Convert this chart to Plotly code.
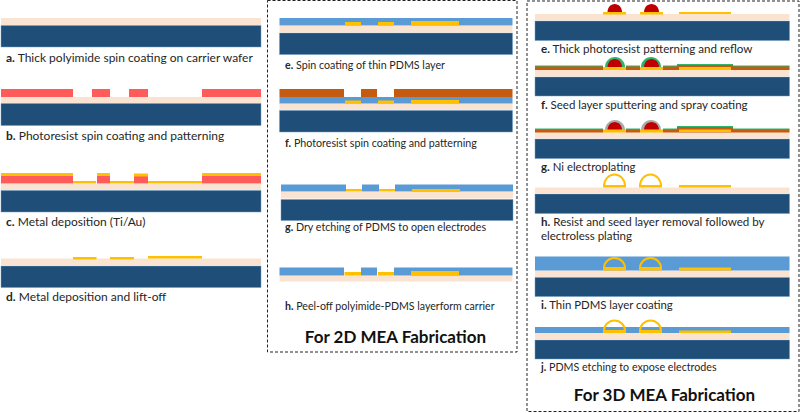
import plotly.graph_objects as go

# Layers, in page pixels: (x0, x1, y0, y1)
WAFER = [(1,261,25.5,47),(1,261,103.5,125.5),(1,261,190.5,212),(1,261,266,287.5),
         (279.5,512.5,33,54.5),(279.5,512.5,110.5,132),(281,513,199.5,220.5),
         (535,789.5,21,40.5),(535,789.5,77,96),(535,789.5,139,158.5),(535,789.5,194,213.5),
         (535,789.5,277.5,296.5),(535,789.5,340,359)]
POLYIMIDE = [(1,261,18,25),(1,261,97,103),(1,261,184,190),(1,261,258.5,265.5),
             (279.5,512.5,26,32.5),(279.5,512.5,103.5,110),(281,513,192,198.5),(279.5,512.5,275.5,281.5),
             (535,789.5,14,20.5),(535,789.5,70,76.5),(535,789.5,132,138.5),(535,789.5,187.5,194),
             (535,789.5,270.5,277),(535,789.5,333,339.5)]
PDMS = [(279.5,512.5,18,25.5),(279.5,512.5,97,103.5),
        (281,346,184.5,191.5),(362,379,184.5,191.5),(395,513,184.5,191.5),
        (279.5,344,267.5,275.5),(361,377,267.5,275.5),(394,512.5,267.5,275.5),
        (535,789.5,256.5,270.5),(535,789.5,327,333)]
RESIST_PINK = [(1,73,89,97),(92,110,89,97),(129,148,89,97),(202,261,89,97),
               (1,73,175.5,183.5),(97,110,175.5,183.5),(134,148,175.5,183.5),(202,261,175.5,183.5)]
RESIST_BROWN = [(279.5,344,89,97),(361,377,89,97),(394,512.5,89,97)]
SEED_BROWN = [(535,603,66.5,70),(626,640,66.5,70),(663,677,66.5,70),(677,733,65,70),(733,789.5,66.5,70),
              (535,603,129.5,132.5),(626,640,129.5,132.5),(663,677,129.5,132.5),(677,733,127,132.5),(733,789.5,129.5,132.5)]
SEED_GREEN = [(535,603,65.5,67),(626,640,65.5,67),(663,677,65.5,67),(677,733,64,65.5),(733,789.5,65.5,67),
              (535,603,128.5,130),(626,640,128.5,130),(663,677,128.5,130),(677,733,126,127.5),(733,789.5,128.5,130)]
GOLD = [(1,73,173,176),(97,110,173,176),(134,148,173.5,176.5),(202,261,173,176),
        (73,96,181,183.5),(110,134,181,183.5),(148,202,181,183.5),
        (73,96.5,257,259.5),(110,134,257,259.5),(148,202,256,258.5),
        (345,361,22,25.5),(378,394,22,25.5),(411,459,21,25.5),
        (345,361,100.5,103.5),(378,394,100.5,103.5),(411,459,100,103.5),
        (346,362,189,191.5),(379,395,189,191.5),(412,460,189,192),
        (344.5,361,272,275.5),(378,394,272,275.5),(411,459,271,275.5),
        (603,626,12,14.5),(640,663,12,14.5),(679,731,12,14),
        (603,626,67,70),(640,663,67,70),(679,731,67,70),
        (603,626,129.5,132.5),(640,663,129.5,132.5),(679,731,129.5,132),
        (603,626,185,187.5),(639,662,185,187.5),(679,731,185,187.5),
        (603,626,267.5,270.5),(639,662,267.5,270.5),(679,731,267.5,270.5),
        (603,626,330,333),(639,662,330,333),(679,731,330.5,333)]

# Domes: (x0, x1, base, top)
RED_DOMES = [(607.5,622,12,4),(644,659,12,4),
             (607.5,622,67,59),(644,659,67,59),(607.5,622,130,122),(644,659,130,122)]
GREEN_DOMES = [(605,625,67,57),(641,661,67,57)]
GREY_DOMES = [(605,625,130,120),(641,661,130,120)]
OUTLINE_DOMES = [(604,625,186,174.5),(640,661,186,174.5),
                 (604,625,268,258),(640,661,268,258),(604,625,331,320.5),(640,661,331,320.5)]

# Dashed frames
FRAMES = [(267.5,517,0.5,352),(527,799,1,411.5)]

LABEL_BOLD = ["a.","b.","c.","d.","e.","f.","g.","h.","e.","f.","g.","h.","","i.","j."]
LABEL_TEXT = ["Thick polyimide spin coating on carrier wafer","Photoresist spin coating and patterning",
              "Metal deposition (Ti/Au)","Metal deposition and lift-off",
              "Spin coating of thin PDMS layer","Photoresist spin coating and patterning",
              "Dry etching of PDMS to open electrodes","Peel-off polyimide-PDMS layerform carrier",
              "Thick photoresist patterning and reflow","Seed layer sputtering and spray coating",
              "Ni electroplating","Resist and seed layer removal followed by","electroless plating",
              "Thin PDMS layer coating","PDMS etching to expose electrodes"]
LABEL_X = [6,6,6,6,285,285,285,285,541,541,541,541,541,541,541]
LABEL_Y = [59,137,223,298,66,144,228,307,50,106,168,223.5,237,306.5,368.5]
LABEL_SIZE = [12,12,12,12,10.7,10.7,10.7,10.6,11.6,11.5,11.4,11.6,11.5,11.4,10.7]
TITLES = ["For 2D MEA Fabrication","For 3D MEA Fabrication"]
TITLE_X = [395.5,664.5]
TITLE_Y = [338.5,397]

C_WAFER, C_WAFER_EDGE = "#1F4E79", "#6E9CC4"
C_POLY, C_PDMS, C_PINK, C_BROWN = "#FBE3D2", "#5B9BD5", "#FF5B5B", "#C55A11"
C_GOLD, C_RED, C_GREEN, C_GREY = "#FFC000", "#C00000", "#2DB56B", "#A9A9A9"


def rects(items, fill, edge=None):
    return [dict(type="rect", xref="x", yref="y", x0=a, x1=b, y0=c, y1=d, fillcolor=fill,
                 line=dict(color=edge or fill, width=0.5 if edge else 0), layer="above")
            for a, b, c, d in items]


def domes(items, fill, edge=None, width=0):
    out = []
    for a, b, base, top in items:
        mid, k = (a + b) / 2, 0.552
        rx, h = (b - a) / 2, base - top
        p = (f"M {a},{base} C {a},{base-k*h} {mid-k*rx},{top} {mid},{top} "
             f"C {mid+k*rx},{top} {b},{base-k*h} {b},{base} Z")
        out.append(dict(type="path", xref="x", yref="y", path=p, fillcolor=fill,
                        line=dict(color=edge or fill, width=width), layer="above"))
    return out


shapes = []
shapes += rects(WAFER, C_WAFER, C_WAFER_EDGE)
shapes += rects(POLYIMIDE, C_POLY)
shapes += rects(PDMS, C_PDMS)
shapes += rects(RESIST_PINK, C_PINK)
shapes += rects(RESIST_BROWN, C_BROWN)
shapes += domes(OUTLINE_DOMES, "rgba(0,0,0,0)", C_GOLD, 2)
shapes += domes(GREEN_DOMES, C_GREEN) + domes(GREY_DOMES, C_GREY) + domes(RED_DOMES, C_RED)
shapes += rects(SEED_GREEN, C_GREEN)
shapes += rects(SEED_BROWN, C_BROWN)
shapes += rects(GOLD, C_GOLD)
for a, b, c, d in FRAMES:
    shapes.append(dict(type="rect", xref="x", yref="y", x0=a, x1=b, y0=c, y1=d,
                       line=dict(color="#222222", width=1, dash="3px,2px"), layer="above"))

labels = [(f"<b>{b}</b> {t}" if b else t) for b, t in zip(LABEL_BOLD, LABEL_TEXT)]

fig = go.Figure()
fig.add_trace(go.Scatter(x=LABEL_X, y=LABEL_Y, mode="text", text=labels, textposition="middle right",
                         textfont=dict(family="Lato", size=LABEL_SIZE, color="#262626"),
                         hoverinfo="skip", showlegend=False))
fig.add_trace(go.Scatter(x=TITLE_X, y=TITLE_Y, mode="text", text=[f"<b>{t}</b>" for t in TITLES],
                         textposition="middle center",
                         textfont=dict(family="Lato", size=17, color="#111111"),
                         hoverinfo="skip", showlegend=False))
fig.update_layout(width=800, height=413, margin=dict(l=0, r=0, t=0, b=0), autosize=False,
                  paper_bgcolor="white", plot_bgcolor="white", shapes=shapes,
                  xaxis=dict(range=[0, 800], visible=False, fixedrange=True),
                  yaxis=dict(range=[413, 0], visible=False, fixedrange=True))
fig.write_html("out.html", config=dict(displayModeBar=False),
               post_script="document.body.style.margin='0';document.body.style.overflow='hidden';")
